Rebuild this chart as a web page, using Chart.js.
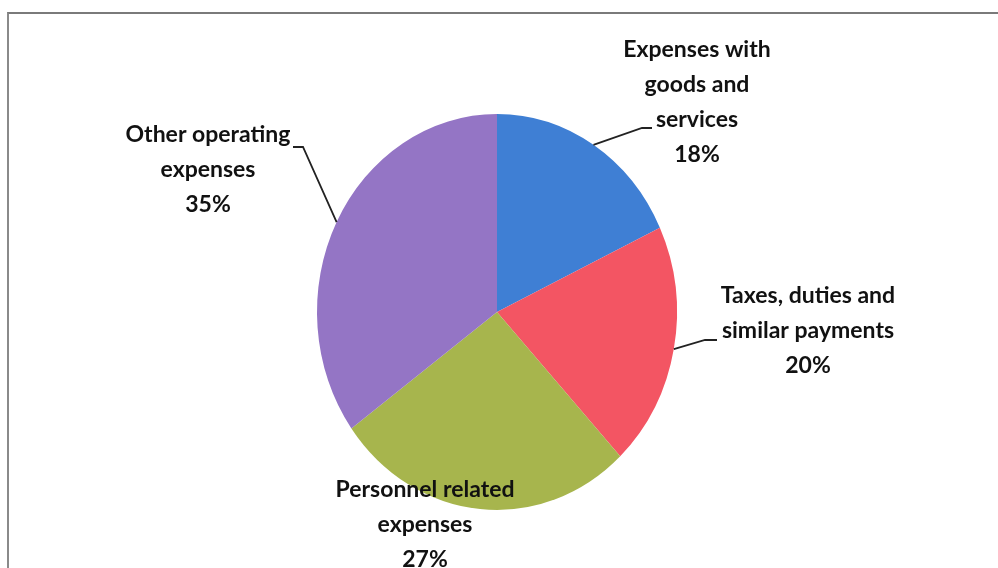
<!DOCTYPE html>
<html>
<head>
<meta charset="utf-8">
<script src="https://cdn.jsdelivr.net/npm/chart.js@4"></script>
<style>
  html, body { margin: 0; padding: 0; background: #fff; }
  #wrap { position: relative; width: 998px; height: 568px; }
  #frame { position: absolute; left: 7px; top: 12px; right: -4px; bottom: -4px;
           border-top: 2px solid #7a7a7a; border-left: 2px solid #8a8a8a; }
  canvas { position: absolute; left: 0; top: 0; }
</style>
</head>
<body>
<div id="wrap">
  <div id="frame"></div>
  <canvas id="pie" width="998" height="568"></canvas>
</div>
<script>
const categorias = [
  ['Expenses with', 'goods and', 'services'],
  ['Taxes, duties and', 'similar payments'],
  ['Personnel related', 'expenses'],
  ['Other operating', 'expenses']
];
const percentuais = [18, 20, 27, 35];
const cores = ['#3f7fd4', '#f35563', '#a7b54d', '#9475c5'];

const ctx = document.getElementById('pie');

// pie in the scan is slightly taller than wide
const esticar = {
  id: 'esticar',
  beforeDatasetsDraw(chart) {
    const a = chart.getDatasetMeta(0).data[0];
    const c = chart.ctx;
    c.save();
    c.translate(a.x, a.y);
    c.scale(1, 1.1);
    c.translate(-a.x, -a.y);
  },
  afterDatasetsDraw(chart) {
    chart.ctx.restore();
  }
};

// labels with leader lines (Excel style)
const rotulos = {
  id: 'rotulos',
  afterDraw(chart, args, opts) {
    const c = chart.ctx;
    const meta = chart.getDatasetMeta(0);
    c.save();
    c.font = 'bold 23px Lato';
    c.fillStyle = '#111';
    c.textAlign = 'center';
    c.textBaseline = 'middle';
    meta.data.forEach((arc, i) => {
      const p = opts.pos[i];
      const mid = (arc.startAngle + arc.endAngle) / 2;
      const ex = arc.x + arc.outerRadius * Math.cos(mid);
      const ey = arc.y + arc.outerRadius * 1.1 * Math.sin(mid);
      const tx = arc.x + p.dx, ty = arc.y + p.dy;
      const linhas = categorias[i].concat([percentuais[i] + '%']);
      linhas.forEach((t, k) => c.fillText(t, tx, ty + k * 35));
      if (p.leader) {
        c.beginPath();
        c.strokeStyle = '#222';
        c.lineWidth = 1.8;
        c.moveTo(ex, ey);
        c.lineTo(arc.x + p.leader[0], arc.y + p.leader[1]);
        c.lineTo(arc.x + p.leader[2], arc.y + p.leader[1]);
        c.stroke();
      }
    });
    c.restore();
  }
};

new Chart(ctx, {
  type: 'pie',
  data: {
    labels: categorias,
    datasets: [{
      data: percentuais,
      backgroundColor: cores,
      borderWidth: 0
    }]
  },
  options: {
    responsive: false,
    animation: false,
    layout: { padding: { left: 317, right: 321, top: 132, bottom: 76 } },
    plugins: {
      legend: { display: false },
      tooltip: { enabled: false },
      rotulos: {
        pos: [
          { dx: 200, dy: -262, leader: [145, -184, 155] },
          { dx: 311, dy: -16, leader: [208, 28, 220] },
          { dx: -72, dy: 178 },
          { dx: -289, dy: -177, leader: [-194, -165, -204] }
        ]
      }
    }
  },
  plugins: [esticar, rotulos]
});
</script>
</body>
</html>
